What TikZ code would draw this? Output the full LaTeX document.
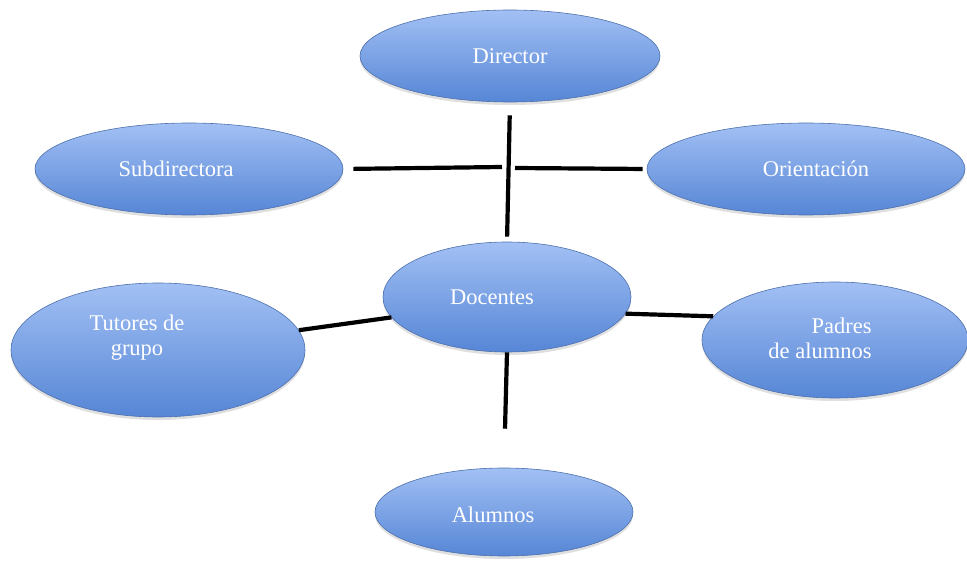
\documentclass[tikz,border=0pt]{standalone}
\usepackage{fontspec}
\setmainfont{Liberation Serif}
\usepackage{tikz}
\usetikzlibrary{shapes, positioning}
\usetikzlibrary{shadows}
\definecolor{cajaalta}{RGB}{162,192,244}
\definecolor{cajabaja}{RGB}{86,134,214}
\definecolor{bordeazul}{RGB}{78,112,172}

\tikzset{
	cargo/.style={ellipse, draw=bordeazul, line width=0.6pt, top color=cajaalta, bottom color=cajabaja, inner sep=0pt, drop shadow={shadow xshift=0pt, shadow yshift=-3pt, opacity=0.25}},
	cargotexto/.style={text=white, font=\fontsize{22.5}{25}\selectfont, align=center, inner sep=0pt},
	enlace/.style={line width=4.2pt, black}
}

\begin{document}
\begin{tikzpicture}[x=1pt, y=-1pt]
		\useasboundingbox (0,0) rectangle (967,561);
		% cargos
		\node[cargo, minimum width=300pt, minimum height=92pt, label={[cargotexto]center:Director}] (director) at (510,56) {};
		\node[cargo, minimum width=308pt, minimum height=92pt, label={[cargotexto, xshift=-13pt]center:Subdirectora}] (subdirectora) at (189,169) {};
		\node[cargo, minimum width=318pt, minimum height=92pt, label={[cargotexto, xshift=10pt]center:Orientación}] (orientacion) at (806,169) {};
		\node[cargo, minimum width=248pt, minimum height=110pt, label={[cargotexto, xshift=-15pt]center:Docentes}] (docentes) at (507,297) {};
		\node[cargo, minimum width=294pt, minimum height=134pt, label={[cargotexto, xshift=-21pt, yshift=12pt]center:Tutores de\\grupo}] (tutores) at (158,350) {};
		\node[cargo, minimum width=266pt, minimum height=116pt, label={[cargotexto, align=right, xshift=-15pt, yshift=2pt]center:Padres\\de alumnos}] (padres) at (835,340) {};
		\node[cargo, minimum width=258pt, minimum height=88pt, label={[cargotexto, xshift=-11pt, yshift=-3pt]center:Alumnos}] (alumnos) at (504,512) {};
		% enlaces
		\coordinate (cruceizq) at (502,167);
		\coordinate (cruceder) at (515,168);
		\draw[enlace, shorten <=13pt, shorten >=5pt] (director.south) -- (docentes.north);
		\draw[enlace, shorten <=10pt] (subdirectora.east) -- (cruceizq);
		\draw[enlace, shorten <=4pt] (orientacion.west) -- (cruceder);
		\draw[enlace] (tutores.8) -- (docentes.190);
		\draw[enlace] (docentes.-8) -- (padres.169);
		\draw[enlace, shorten >=39pt] (docentes.south) -- (alumnos.north);
	\end{tikzpicture}
\end{document}
